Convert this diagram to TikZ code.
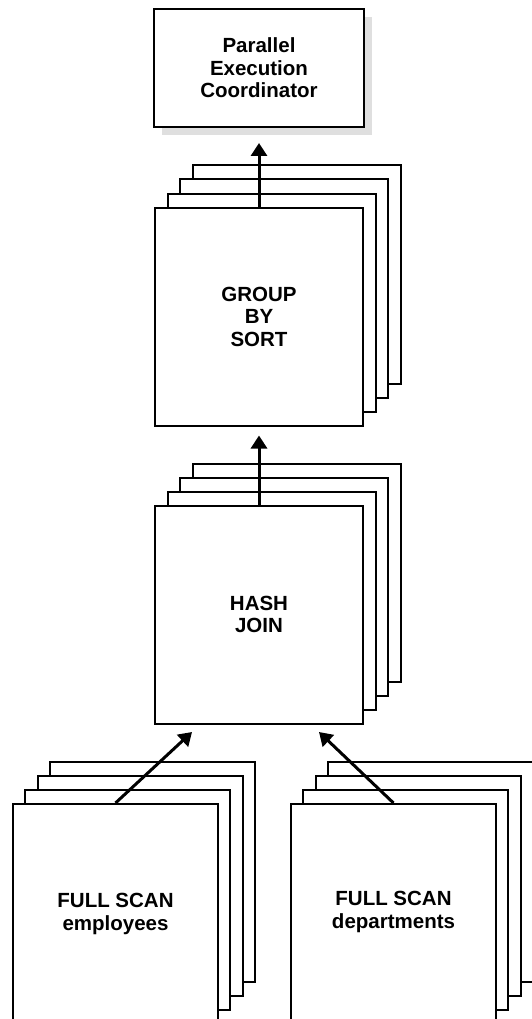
\documentclass[tikz,border=0pt]{standalone}
\usepackage{fontspec}
\setmainfont{Liberation Sans}
\usetikzlibrary{arrows.meta}

\begin{document}
\begin{tikzpicture}[x=1pt,y=-1pt,
  sheet/.style={draw,fill=white,line width=2pt,minimum width=208pt,minimum height=218pt,
    inner sep=0pt,align=center,font=\bfseries\fontsize{20.5}{22.5}\selectfont},
  scan/.style={sheet,minimum width=205pt,minimum height=220pt},
  flow/.style={-{Triangle[length=13pt,width=16pt]},line width=3pt}]
  \clip (0,0) rectangle (532,1019);
  % coordinator with its grey shadow
  \node[fill=gray!25,minimum width=210pt,minimum height=118pt] (pecshadow) at (267,76) {};
  \node[sheet,minimum width=210pt,minimum height=118pt] (pec) at (259,68)
    {Parallel\\Execution\\Coordinator};
  % stacked sheets, back layers first
  \foreach \k in {3,2,1} {
    \node[sheet] (grp\k) at (259+12.7*\k,316.5-14*\k) {};
    \node[sheet] (hj\k)  at (259+12.7*\k,614.5-14*\k) {};
    \node[scan]  (fse\k) at (115.5+12.3*\k,914-14*\k) {};
    \node[scan]  (fsd\k) at (393.5+12.3*\k,914-14*\k) {};
  }
  \node[sheet] (grp) at (259,316.5) {GROUP\\BY\\SORT};
  \node[sheet] (hj)  at (259,614.5) {HASH\\JOIN};
  \node[scan]  (fse) at (115.5,914) {FULL SCAN\\employees};
  \node[scan,text depth=8pt] (fsd) at (393.5,914) {FULL SCAN\\departments};
  % data flow
  \coordinate (hjinl) at (192,732);
  \coordinate (hjinr) at (319,732);
  \draw[flow,shorten >=15pt] (grp.north) -- (pec.south);
  \draw[flow,shorten >=9pt] (hj.north) -- (grp.south);
  \draw[flow] (fse.north) -- (hjinl);
  \draw[flow] (fsd.north) -- (hjinr);
\end{tikzpicture}
\end{document}
